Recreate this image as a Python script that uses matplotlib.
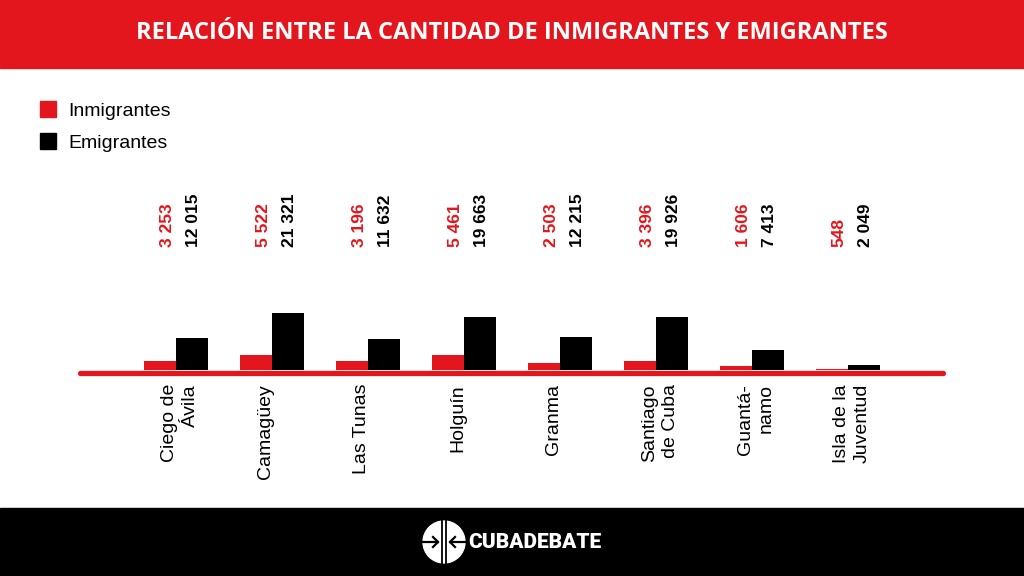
import matplotlib
matplotlib.use('Agg')
import numpy as np
import matplotlib.pyplot as plt
from matplotlib.lines import Line2D
from matplotlib.patches import Rectangle, Circle
from matplotlib.transforms import blended_transform_factory

# datos
provincias = ['Ciego de\nÁvila', 'Camagüey', 'Las Tunas', 'Holguín', 'Granma',
              'Santiago\nde Cuba', 'Guantá-\nnamo', 'Isla de la\nJuventud']
inmigrantes = [3253, 5522, 3196, 5461, 2503, 3396, 1606, 548]
emigrantes = [12015, 21321, 11632, 19663, 12215, 19926, 7413, 2049]

ROJO = '#E3161D'
W, H = 1024, 576

plt.rcParams['font.family'] = ['Liberation Sans', 'DejaVu Sans']

fig = plt.figure(figsize=(W / 100, H / 100), dpi=100)
fig.patch.set_facecolor('white')

def fy(py):
    # pixel desde arriba -> coord figura
    return 1 - py / H

# banda superior y titulo
fig.patches.append(Rectangle((0, fy(68)), 1, 68 / H, transform=fig.transFigure,
                             color=ROJO, zorder=0))
fig.text(0.5, fy(33), 'RELACIÓN ENTRE LA CANTIDAD DE INMIGRANTES Y EMIGRANTES',
         color='white', fontsize=17.0, fontweight='bold', family='Open Sans',
         ha='center', va='center')

# banda inferior
fig.patches.append(Rectangle((0, 0), 1, 68 / H, transform=fig.transFigure,
                             color='black', zorder=0))

# leyenda
for i, (lab, col) in enumerate([('Inmigrantes', ROJO), ('Emigrantes', 'black')]):
    yc = 109 + 32 * i
    fig.patches.append(Rectangle((40 / W, fy(yc + 8)), 16 / W, 16 / H,
                                 transform=fig.transFigure, color=col))
    fig.text(68 / W, fy(yc + 2), lab, fontsize=14, ha='left', va='center')

# ejes
base = 370
top = 190
ax = fig.add_axes([78 / W, fy(base), (945 - 78) / W, (base - top) / H])
ax.set_facecolor('none')
for s in ax.spines.values():
    s.set_visible(False)

x = np.arange(len(provincias))
bw = 32 / 96
ax.bar(x - bw / 2, inmigrantes, width=bw, color=ROJO, zorder=2)
ax.bar(x + bw / 2, emigrantes, width=bw, color='black', zorder=2)
ax.set_xlim((78 - 176) / 96, (945 - 176) / 96)
ax.set_ylim(0, 21321 * (base - top) / 57)
ax.set_yticks([])
ax.set_xticks([])

# linea base
fig.lines.append(Line2D([80 / W, 943 / W], [fy(372.5), fy(372.5)],
                        transform=fig.transFigure, color=ROJO, lw=3.8,
                        solid_capstyle='round', zorder=3))

def fmt(v):
    return f'{v:,}'.replace(',', ' ')

tr = blended_transform_factory(ax.transData, fig.transFigure)
for i in range(len(provincias)):
    ax.text(x[i] - 9 / 96, fy(247), fmt(inmigrantes[i]), transform=tr, rotation=90,
            color=ROJO, fontsize=12.5, fontweight='bold', ha='center', va='bottom')
    ax.text(x[i] + 18 / 96, fy(247), fmt(emigrantes[i]), transform=tr, rotation=90,
            color='black', fontsize=12.5, fontweight='bold', ha='center', va='bottom')
    ax.text(x[i] - 15 / 96, fy(384), provincias[i], transform=tr, rotation=90,
            fontsize=14, ha='left', va='top', multialignment='right',
            linespacing=1.3)

# logo
lx, ly = 444, H - 542
fig.patches.append(Circle((lx, ly), 21, transform=None, color='white', zorder=5))
for dx in (-2, 2):
    fig.lines.append(Line2D([lx + dx, lx + dx], [ly - 22, ly + 22], transform=None,
                            color='black', lw=1.3, zorder=6))
for s in (-1, 1):
    tip = lx + s * 6
    fig.lines.append(Line2D([lx + s * 22, tip], [ly, ly], transform=None,
                            color='black', lw=1.6, zorder=6))
    fig.lines.append(Line2D([tip + s * 5, tip, tip + s * 5], [ly + 5, ly, ly - 5],
                            transform=None, color='black', lw=1.6, zorder=6))
fig.text(468 / W, fy(542), 'CUBADEBATE', color='white', fontsize=15,
         fontweight='heavy', family='Roboto', ha='left', va='center')

fig.savefig('out.png', dpi=100)
